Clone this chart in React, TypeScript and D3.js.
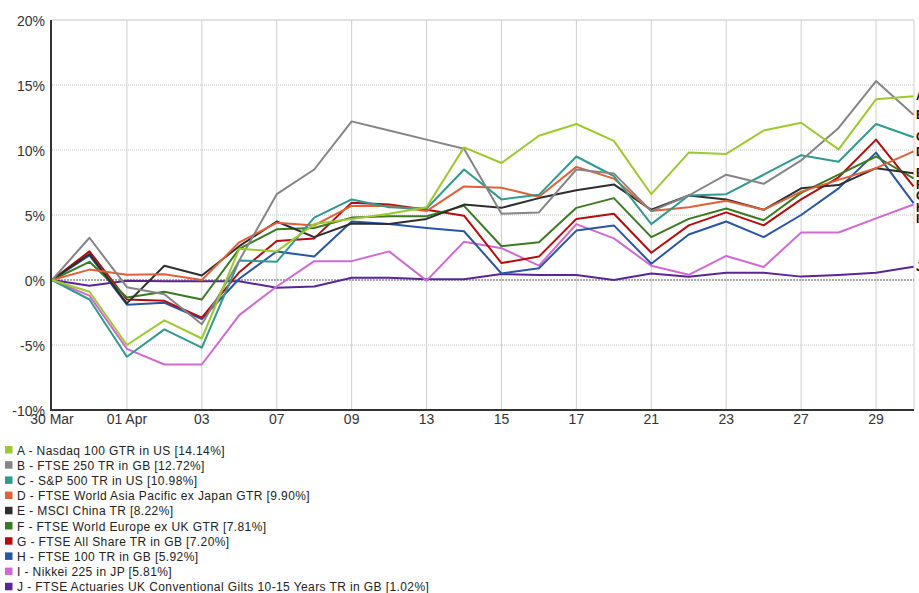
import React from "react";
import * as d3 from "d3";

const dates = ["30 Mar","31","01 Apr","02","03","06","07","08","09","10","13","14","15","16","17","20","21","22","23","24","27","28","29","30"];
const tickIdx = [0,2,4,6,8,10,12,14,16,18,20,22];
const yTicks = [-10,-5,0,5,10,15,20];

const seriesNames = [
  "A - Nasdaq 100 GTR in US [14.14%]",
  "B - FTSE 250 TR in GB [12.72%]",
  "C - S&P 500 TR in US [10.98%]",
  "D - FTSE World Asia Pacific ex Japan GTR [9.90%]",
  "E - MSCI China TR [8.22%]",
  "F - FTSE World Europe ex UK GTR [7.81%]",
  "G - FTSE All Share TR in GB [7.20%]",
  "H - FTSE 100 TR in GB [5.92%]",
  "I - Nikkei 225 in JP [5.81%]",
  "J - FTSE Actuaries UK Conventional Gilts 10-15 Years TR in GB [1.02%]",
];
const seriesKeys = ["A","B","C","D","E","F","G","H","I","J"];
const seriesColors = ["#9dc92e","#858585","#2f9a8e","#e0603a","#2e2e2e","#3b7a22","#b30d0d","#2a55a3","#d06ad0","#5a2596"];

const A = [0,-0.9,-5.0,-3.1,-4.5,2.4,2.2,4.3,4.7,5.1,5.6,10.2,9.0,11.1,12.0,10.7,6.6,9.8,9.7,11.5,12.1,10.05,13.9,14.14];
const B = [0,3.25,-0.55,-1.1,-3.4,1.5,6.6,8.5,12.2,11.5,10.8,10.1,5.1,5.2,8.5,8.2,5.3,6.5,8.1,7.4,9.2,11.7,15.3,12.72];
const C = [0,-1.5,-5.9,-3.8,-5.2,1.5,1.4,4.8,6.2,5.6,5.5,8.5,6.2,6.55,9.5,8.0,4.3,6.5,6.6,8.1,9.6,9.1,12.0,10.98];
const D = [0,0.8,0.4,0.45,0.0,2.9,4.4,4.2,5.7,5.7,5.3,7.2,7.1,6.4,8.7,7.8,5.3,5.6,6.1,5.4,6.8,7.7,8.6,9.90];
const E = [0,2.0,-1.8,1.1,0.35,2.6,4.5,3.3,4.35,4.3,4.7,5.8,5.55,6.3,6.9,7.35,5.4,6.5,6.2,5.4,7.05,7.3,8.6,8.22];
const F = [0,1.4,-1.35,-0.9,-1.5,2.4,3.9,4.0,4.8,4.9,4.9,5.7,2.6,2.9,5.55,6.3,3.3,4.7,5.5,4.6,6.7,8.1,9.5,7.81];
const G = [0,2.2,-1.5,-1.6,-2.9,0.6,3.0,3.2,5.95,5.8,5.4,4.95,1.3,1.8,4.7,5.1,2.1,4.2,5.2,4.2,6.2,7.9,10.8,7.20];
const H = [0,1.9,-1.9,-1.75,-3.0,0.1,2.2,1.8,4.5,4.3,4.0,3.75,0.5,0.9,3.8,4.2,1.25,3.5,4.5,3.3,5.0,7.05,9.8,5.92];
const I = [0,-1.2,-5.3,-6.5,-6.5,-2.7,-0.5,1.45,1.45,2.2,-0.05,2.95,2.45,1.1,4.3,3.2,1.1,0.4,1.85,1.0,3.65,3.65,4.74,5.81];
const J = [0,-0.45,-0.05,-0.1,-0.1,-0.1,-0.6,-0.5,0.17,0.17,0.05,0.05,0.46,0.38,0.38,0.0,0.5,0.25,0.56,0.56,0.26,0.38,0.56,1.02];
const seriesValues = [A,B,C,D,E,F,G,H,I,J];

const W = 919, Hh = 593;
const FONT = "'Liberation Sans', Arial, sans-serif";

export default function App() {
  const x = d3.scaleLinear().domain([0, dates.length - 1]).range([52, 913.5]);
  const y = d3.scaleLinear().domain([-10, 20]).range([410, 20]);
  const line = d3.line<number>().x((_, i) => x(i)).y((v) => y(v));

  // end labels with simple collision avoidance
  const order = seriesValues.map((s, i) => ({ i, v: s[s.length - 1] })).sort((a, b) => b.v - a.v);
  const labelY: number[] = [];
  let prev = -Infinity;
  order.forEach((o) => {
    const yy = Math.max(y(o.v), prev + 11.5);
    labelY[o.i] = yy;
    prev = yy;
  });

  return (
    <svg width={W} height={Hh} style={{ position: "absolute", left: 0, top: 0, background: "#fff" }} fontFamily={FONT}>
      <rect x={0} y={0} width={W} height={Hh} fill="#fff" />
      {/* horizontal grid */}
      {yTicks.filter((t) => t !== 0 && t !== -10).map((t) => (
        <line key={"h" + t} x1={52} x2={914} y1={y(t)} y2={y(t)} stroke="#c4c4c4" strokeWidth={1} strokeDasharray={t === 20 ? undefined : "1,1"} />
      ))}
      {/* vertical grid */}
      {tickIdx.slice(1).map((t) => (
        <line key={"v" + t} x1={x(t)} x2={x(t)} y1={20} y2={410} stroke="#cfcfcf" strokeWidth={1} />
      ))}
      <line x1={914} x2={914} y1={20} y2={410} stroke="#cfcfcf" strokeWidth={1} />
      {/* zero line */}
      <line x1={52} x2={914} y1={y(0)} y2={y(0)} stroke="#555" strokeWidth={1.2} strokeDasharray="2,1" />
      {/* series */}
      {seriesValues.map((s, i) => ({ s, i })).reverse().map(({ s, i }) => (
        <path key={seriesKeys[i]} d={line(s) || ""} fill="none" stroke={seriesColors[i]} strokeWidth={2} strokeLinejoin="round" />
      ))}
      {/* axes */}
      <line x1={51} x2={51} y1={20} y2={411} stroke="#333" strokeWidth={2} />
      <line x1={50} x2={914} y1={410} y2={410} stroke="#333" strokeWidth={2} />
      {yTicks.map((t) => (
        <text key={"yt" + t} x={45} y={y(t) + 1} dy="0.35em" textAnchor="end" fontSize={14} fill="#333">{t + "%"}</text>
      ))}
      {tickIdx.map((t) => (
        <text key={"xt" + t} x={x(t)} y={423.5} textAnchor="middle" fontSize={14} fill="#333">{dates[t]}</text>
      ))}
      {/* end labels */}
      {seriesKeys.map((k, i) => (
        <text key={"el" + k} x={916} y={labelY[i]} dy="0.35em" fontSize={12} fontWeight="bold" fill="#111">{k}</text>
      ))}
      {/* legend */}
      {seriesNames.map((n, i) => (
        <g key={"lg" + i}>
          <rect x={5} y={446 + i * 15.2} width={7.5} height={7.5} fill={seriesColors[i]} />
          <text x={17} y={454.5 + i * 15.2} fontSize={12} letterSpacing={0.4} fill="#222">{n}</text>
        </g>
      ))}
    </svg>
  );
}
